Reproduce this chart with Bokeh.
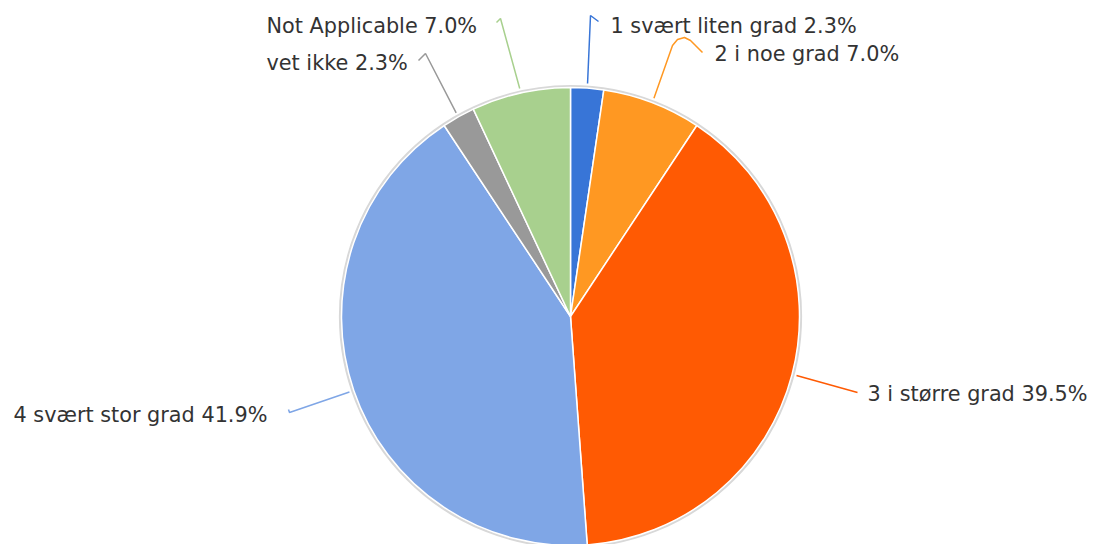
import math
from bokeh.plotting import figure
from bokeh.models import Range1d
from bokeh.core.properties import value
from bokeh.embed import file_html
from bokeh.resources import INLINE

# ---- data ----
categories = ["1 svært liten grad", "2 i noe grad", "3 i større grad",
              "4 svært stor grad", "vet ikke", "Not Applicable"]
counts = [1, 3, 17, 18, 1, 3]
colors = ["#3875d7", "#ff9822", "#ff5a03", "#7fa6e6", "#999999", "#a8d08e"]

# ---- layout (pixel space of the screenshot) ----
W, H = 1091, 544
OX, OY = 0, 0
CX, CY, R = 570, 316, 229

def dx(px):
    return (px - CX) / R

def dy(py):
    return (CY - py) / R

p = figure(width=W, height=H, output_backend="svg", toolbar_location=None,
           x_range=Range1d(dx(OX), dx(OX + W)), y_range=Range1d(dy(OY + H), dy(OY)),
           min_border=0)
p.axis.visible = False
p.grid.visible = False
p.outline_line_color = None
p.background_fill_color = "white"

total = sum(counts)
fracs = [c / total for c in counts]
cum = [0.0]
for f in fracs:
    cum.append(cum[-1] + f)
starts = [math.pi / 2 - 2 * math.pi * cum[i] for i in range(len(counts))]
ends = [math.pi / 2 - 2 * math.pi * cum[i + 1] for i in range(len(counts))]

# faint outline / shadow of the pie
p.circle(x=[0], y=[0], radius=1.006, fill_color=None, line_color="#d8d8d8", line_width=2.5)

p.wedge(x=0, y=0, radius=1.0, start_angle=starts, end_angle=ends, direction="clock",
        fill_color=colors, line_color="white", line_width=1.5)

# label layout: text anchor (px) and connector bend points (px)
label_pos = [(610, 25, "left"), (714, 53, "left"), (867, 393, "left"),
             (13, 414, "left"), (266, 62, "left"), (266, 25, "left")]
bends = [
    [(590, 15), (598, 21)],
    [(672, 45), (677, 39), (684, 37), (690, 40), (702, 52)],
    [(857, 392)],
    [(289, 412), (288, 409)],
    [(425, 53), (418, 60)],
    [(500, 18), (496, 22)],
]

for i, cat in enumerate(categories):
    mid = (cum[i] + cum[i + 1]) / 2 * 2 * math.pi  # clockwise from top
    ex, ey = 1.02 * math.sin(mid), 1.02 * math.cos(mid)
    xs = [ex] + [dx(b[0]) for b in bends[i]]
    ys = [ey] + [dy(b[1]) for b in bends[i]]
    p.line(xs, ys, line_color=colors[i], line_width=1.5)
    pct = f"{fracs[i] * 100:.1f}%"
    lx, ly, al = label_pos[i]
    p.text(x=[dx(lx)], y=[dy(ly)], text=[f"{cat} {pct}"], text_font=value("DejaVu Sans"),
           text_font_size="20.8px", text_color="#333333", text_align=al,
           text_baseline="middle")

open("out.html", "w").write(file_html(p, INLINE))
